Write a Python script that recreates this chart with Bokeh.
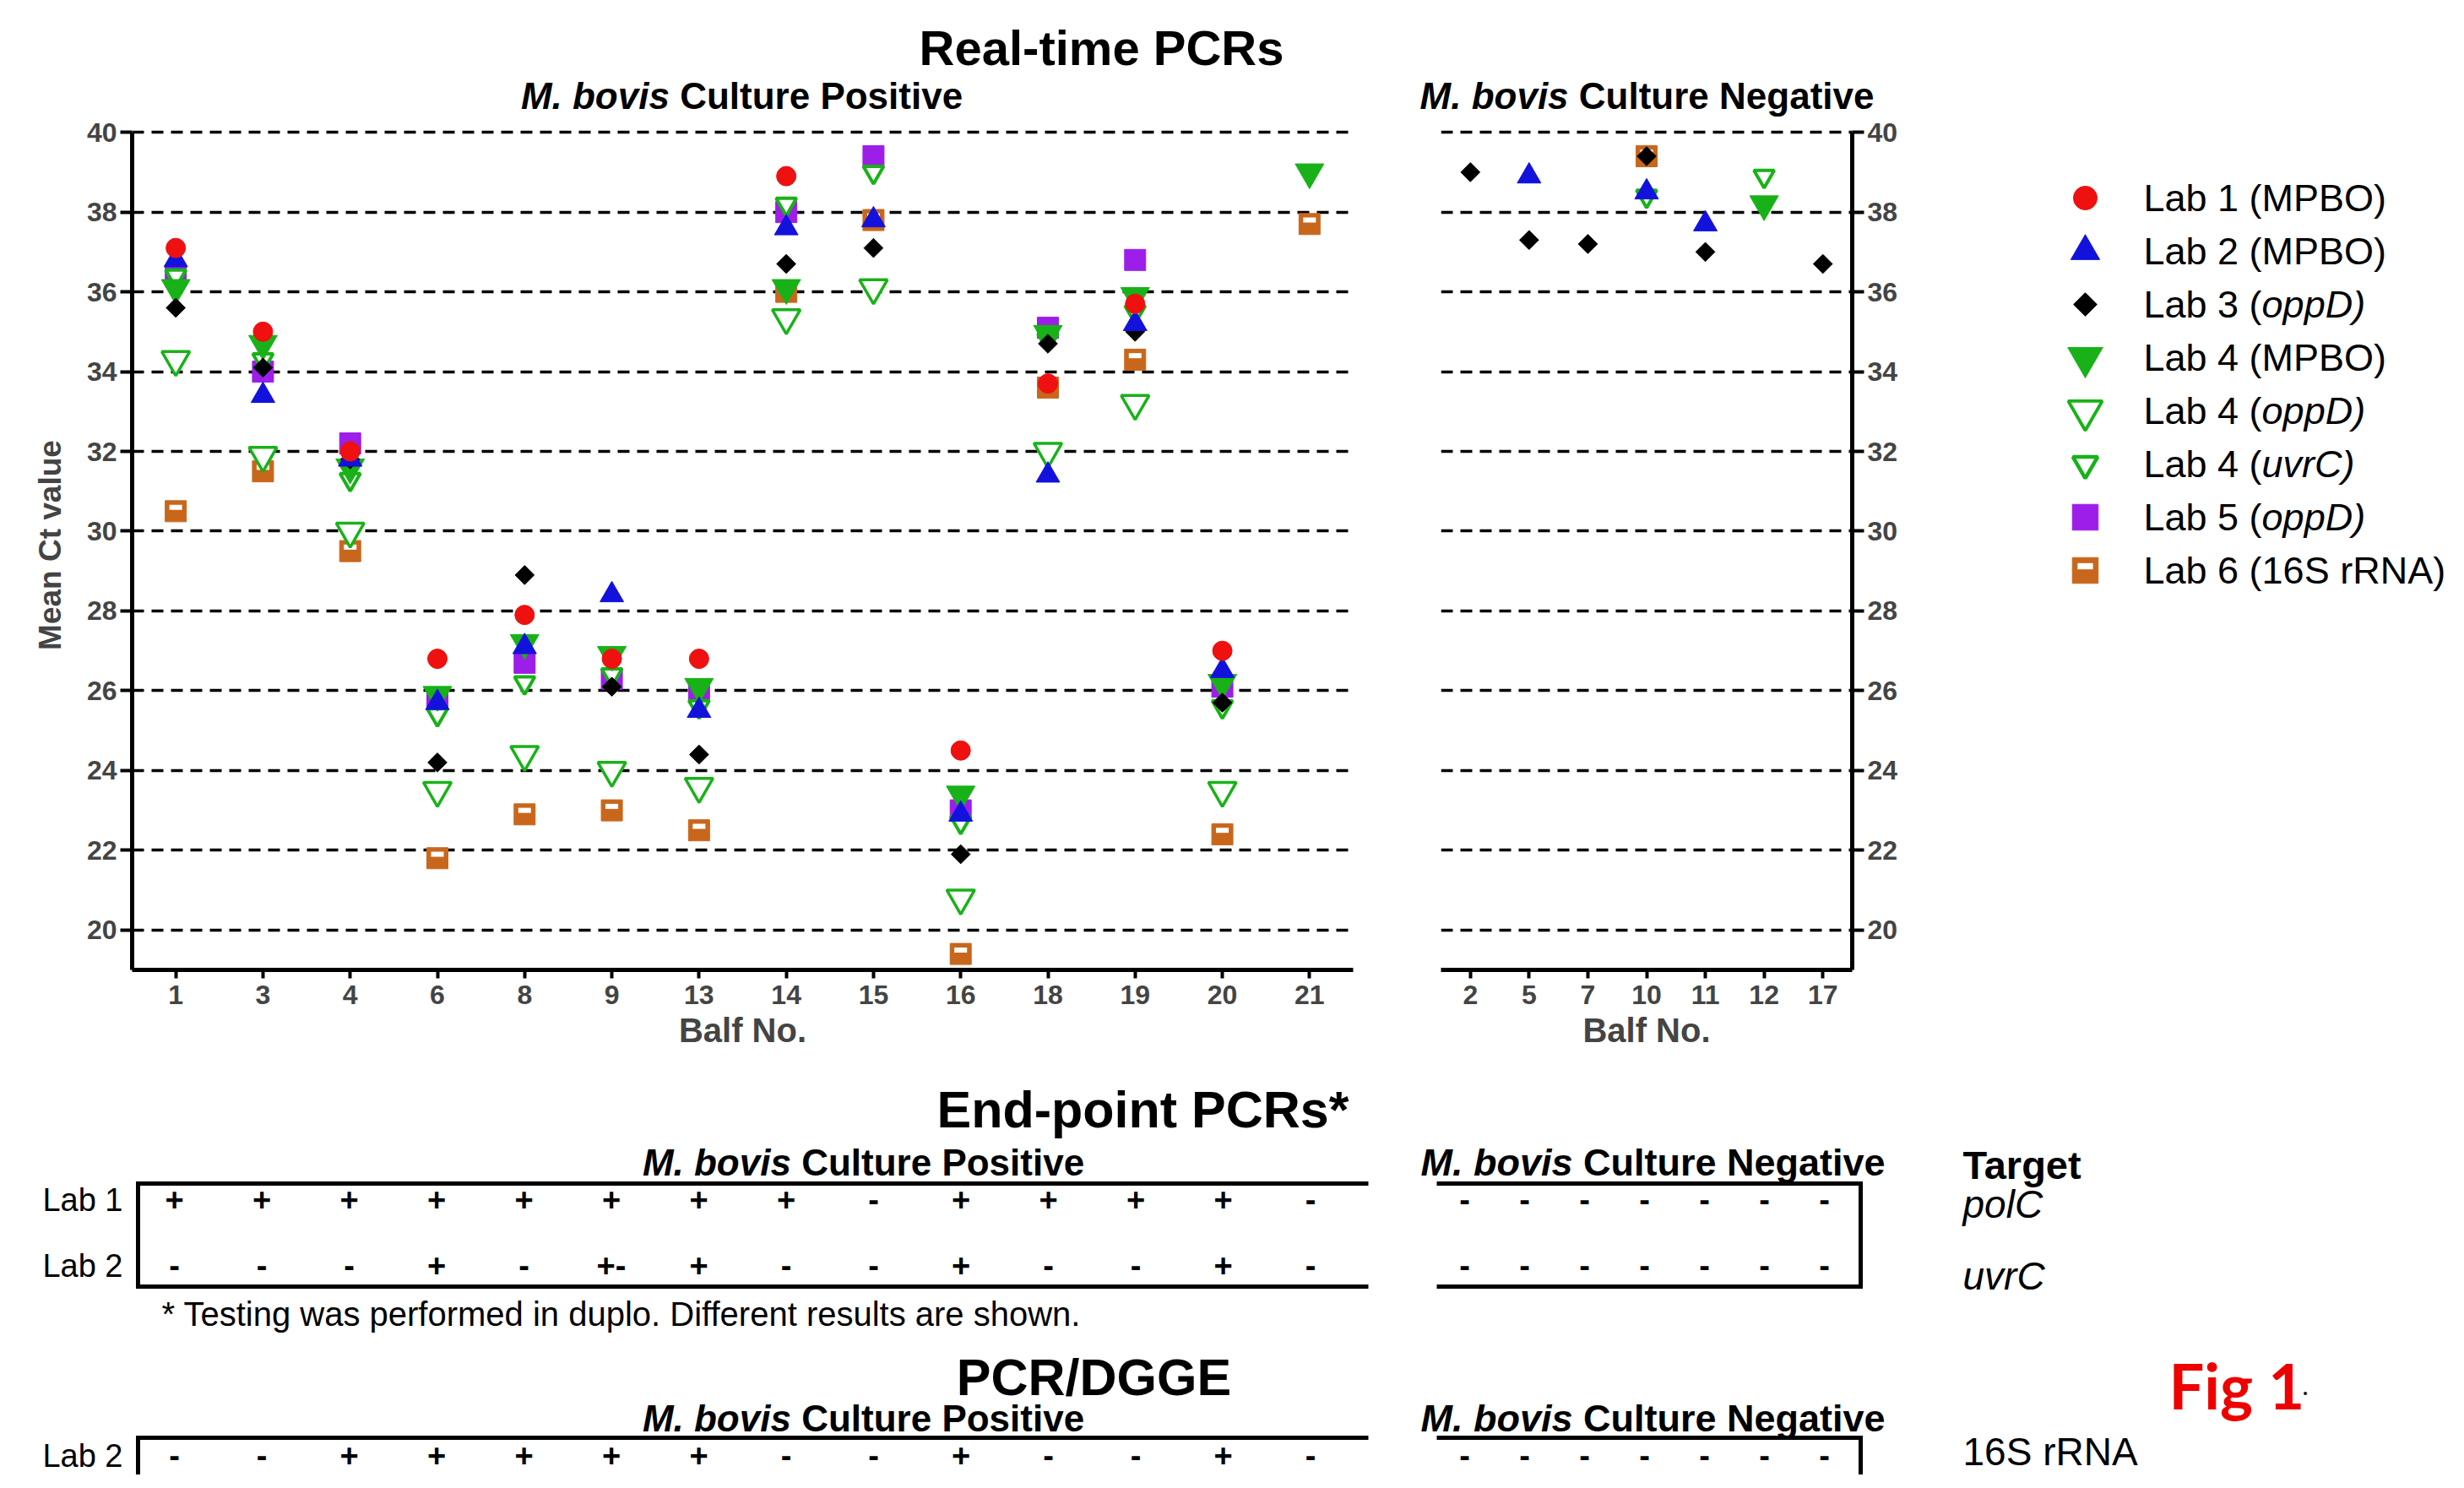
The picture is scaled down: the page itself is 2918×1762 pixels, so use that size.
import math
from bokeh.plotting import figure
from bokeh.models import Label, FixedTicker, Range1d, FactorRange, ColumnDataSource
from bokeh.layouts import row, column
from bokeh.embed import file_html
from bokeh.resources import INLINE
from bokeh.core.properties import value
from bokeh.transform import dodge

# ---------------- data ----------------
pos_balf = ["1", "3", "4", "6", "8", "9", "13", "14", "15", "16", "18", "19", "20", "21"]
neg_balf = ["2", "5", "7", "10", "11", "12", "17"]

# Mean Ct values, culture-positive BALFs
lab1_mpbo_pos = [37.1, 35.0, 32.0, 26.8, 27.9, 26.8, 26.8, 38.9, None, 24.5, 33.7, 35.7, 27.0, None]
lab2_mpbo_pos = [36.8, 33.4, 31.8, 25.7, 27.1, 28.4, 25.5, 37.6, 37.8, 22.9, 31.4, 35.2, 26.5, None]
lab3_oppd_pos = [35.6, 34.1, 31.8, 24.2, 28.9, 26.1, 24.4, 36.7, 37.1, 21.9, 34.7, 35.0, 25.7, None]
lab4_mpbo_pos = [36.1, 34.7, 31.6, 25.9, 27.2, 26.9, 26.1, 36.1, None, 23.4, 34.95, 35.9, 26.2, 39.0]
lab4_oppd_pos = [34.3, 31.9, 30.0, 23.5, 24.4, 24.0, 23.6, 35.35, 36.1, 20.8, 32.0, 33.2, 23.5, None]
lab4_uvrc_pos = [36.4, 34.3, 31.3, 25.4, 26.2, 26.4, 25.6, 38.2, 39.0, 22.7, 34.8, 35.5, 25.6, None]
lab5_oppd_pos = [36.4, 34.0, 32.2, 25.8, 26.7, 26.3, 26.0, 38.0, 39.4, 23.0, 35.1, 36.8, 26.1, None]
lab6_16s_pos = [30.5, 31.5, 29.5, 21.8, 22.9, 23.0, 22.5, 36.0, 37.8, 19.4, 33.6, 34.3, 22.4, 37.7]

# Mean Ct values, culture-negative BALFs
lab1_mpbo_neg = [None, None, None, None, None, None, None]
lab2_mpbo_neg = [None, 38.9, None, 38.5, 37.7, None, None]
lab3_oppd_neg = [39.0, 37.3, 37.2, 39.4, 37.0, None, 36.7]
lab4_mpbo_neg = [None, None, None, None, None, 38.2, None]
lab4_oppd_neg = [None, None, None, None, None, None, None]
lab4_uvrc_neg = [None, None, None, 38.4, None, 38.9, None]
lab5_oppd_neg = [None, None, None, None, None, None, None]
lab6_16s_neg = [None, None, None, 39.4, None, None, None]

y_ticks = [20, 22, 24, 26, 28, 30, 32, 34, 36, 38, 40]

# End-point PCR results
ep_lab1_pos = ["+", "+", "+", "+", "+", "+", "+", "+", "-", "+", "+", "+", "+", "-"]
ep_lab2_pos = ["-", "-", "-", "+", "-", "+-", "+", "-", "-", "+", "-", "-", "+", "-"]
ep_lab1_neg = ["-", "-", "-", "-", "-", "-", "-"]
ep_lab2_neg = ["-", "-", "-", "-", "-", "-", "-"]
# PCR/DGGE results
dgge_lab2_pos = ["-", "-", "+", "+", "+", "+", "+", "-", "-", "+", "-", "-", "+", "-"]
dgge_lab2_neg = ["-", "-", "-", "-", "-", "-", "-"]

legend_labels = [
    [("Lab 1 (MPBO)", False)],
    [("Lab 2 (MPBO)", False)],
    [("Lab 3 (", False), ("oppD)", True)],
    [("Lab 4 (MPBO)", False)],
    [("Lab 4 (", False), ("oppD)", True)],
    [("Lab 4 (", False), ("uvrC)", True)],
    [("Lab 5 (", False), ("oppD)", True)],
    [("Lab 6 (16S rRNA)", False)],
]
legend_keys = ["lab1", "lab2", "lab3", "lab4m", "lab4o", "lab4u", "lab5", "lab6"]

pos_series = {"lab1": lab1_mpbo_pos, "lab2": lab2_mpbo_pos, "lab3": lab3_oppd_pos, "lab4m": lab4_mpbo_pos,
              "lab4o": lab4_oppd_pos, "lab4u": lab4_uvrc_pos, "lab5": lab5_oppd_pos, "lab6": lab6_16s_pos}
neg_series = {"lab1": lab1_mpbo_neg, "lab2": lab2_mpbo_neg, "lab3": lab3_oppd_neg, "lab4m": lab4_mpbo_neg,
              "lab4o": lab4_oppd_neg, "lab4u": lab4_uvrc_neg, "lab5": lab5_oppd_neg, "lab6": lab6_16s_neg}
draw_order = ["lab6", "lab5", "lab4o", "lab4u", "lab4m", "lab3", "lab2", "lab1"]

# ---------------- styles ----------------
FONT = "Liberation Sans"
RED = "#ef1010"
BLUE = "#1212dc"
BLACK = "#000000"
GREEN = "#18b218"
PURPLE = "#9c1ee8"
ORANGE = "#c8671c"

MARKERS = {
    "lab1": dict(marker="circle", size=23, fill_color=RED, line_color=RED),
    "lab2": dict(marker="triangle", size=28, fill_color=BLUE, line_color=BLUE),
    "lab3": dict(marker="square", size=16, angle=math.pi / 4, fill_color=BLACK, line_color=BLACK),
    "lab4m": dict(marker="inverted_triangle", size=34, fill_color=GREEN, line_color=GREEN),
    "lab4o": dict(marker="inverted_triangle", size=33, fill_color="white", line_color=GREEN, line_width=3.5),
    "lab4u": dict(marker="inverted_triangle", size=24, fill_color="white", line_color=GREEN, line_width=4),
    "lab5": dict(marker="square", size=25, fill_color=PURPLE, line_color=PURPLE),
    "lab6": dict(marker="square", size=25, fill_color=ORANGE, line_color=ORANGE),
}
LEG_SCALE = 1.22

W_REG = {' ': 278, '(': 333, ')': 333, '*': 389, '.': 278, '+': 584, '-': 333, '/': 278,
         'A': 667, 'B': 667, 'C': 722, 'D': 722, 'E': 667, 'F': 611, 'G': 778, 'H': 722, 'I': 278,
         'L': 556, 'M': 833, 'N': 722, 'O': 778, 'P': 667, 'R': 722, 'S': 667, 'T': 611,
         'a': 556, 'b': 556, 'c': 500, 'd': 556, 'e': 556, 'f': 278, 'g': 556, 'h': 556, 'i': 222,
         'l': 222, 'm': 833, 'n': 556, 'o': 556, 'p': 556, 'r': 333, 's': 500, 't': 278, 'u': 556,
         'v': 500, 'w': 722, 'y': 500}
W_BOLD = {' ': 278, '(': 333, ')': 333, '*': 389, '.': 278, '+': 584, '-': 333, '/': 278,
          'A': 722, 'B': 722, 'C': 722, 'D': 722, 'E': 667, 'G': 778, 'M': 833, 'N': 722, 'O': 778,
          'P': 667, 'R': 722, 'S': 667, 'T': 611,
          'a': 556, 'b': 611, 'c': 556, 'd': 611, 'e': 556, 'f': 333, 'g': 611, 'i': 278, 'l': 278,
          'm': 889, 'n': 611, 'o': 611, 'p': 611, 'r': 389, 's': 556, 't': 333, 'u': 611, 'v': 556}


def tw(s, size, bold=False):
    tab = W_BOLD if bold else W_REG
    return sum(tab.get(ch, 556) for ch in s) * size / 1000.0


def add_text(fig, parts, x, y, size, bold=False, align="left", color="black", baseline="middle", font=FONT):
    """Place (possibly mixed italic) text; x,y in the figure's data units (page pixels)."""
    widths = [tw(t, size, bold) for t, _ in parts]
    total = sum(widths)
    x0 = x - total / 2.0 if align == "center" else x
    for (t, it), w in zip(parts, widths):
        lead = len(t) - len(t.lstrip(" "))
        style = ("bold " if bold else "") + ("italic" if it else "")
        style = style.strip() or "normal"
        fig.add_layout(Label(x=x0 + tw(" " * lead, size, bold), y=y, text=t.strip(" "),
                             text_font=font, text_font_size=f"{size}px", text_font_style=style,
                             text_color=color, text_align="left", text_baseline=baseline))
        x0 += w


def style_axis(ax, tick_out):
    ax.axis_line_width = 5
    ax.axis_line_color = "black"
    ax.major_tick_line_width = 4
    ax.major_tick_out = tick_out
    ax.major_tick_in = 0
    ax.minor_tick_line_color = None
    ax.major_label_text_font = FONT
    ax.major_label_text_font_style = "bold"
    ax.major_label_text_font_size = "32px"
    ax.axis_label_text_font = FONT
    ax.axis_label_text_font_style = "bold"
    ax.axis_label_text_font_size = "40px"


def nan(v):
    return float("nan") if v is None else v


def draw_points(p, xs, ys, key, scale=1.0, inner_offset=0.1):
    st = dict(MARKERS[key])
    st["size"] = st["size"] * scale
    if "line_width" in st:
        st["line_width"] = st["line_width"] * (1.0 + (scale - 1.0) * 0.6)
    src = ColumnDataSource(dict(x=xs, y=ys))
    p.scatter(x="x", y="y", source=src, **st)
    if key == "lab6":
        p.rect(x="x", y=dodge("y", inner_offset), width=15 * scale, height=6 * scale,
               width_units="screen", height_units="screen", source=src,
               fill_color="white", line_color=None)


def blank_fig(width, height, x0, x1, y_top, y_bottom):
    f = figure(width=width, height=height, x_range=Range1d(x0, x1), y_range=Range1d(y_bottom, y_top),
               x_axis_location=None, y_axis_location=None, toolbar_location=None,
               output_backend="svg", min_border=0)
    f.outline_line_color = None
    f.grid.visible = False
    return f


# ---------------- page geometry (pixels) ----------------
LEFT_W = 2282          # page x 8 .. 2290
RIGHT_W = 620          # page x 2290 .. 2910
HEAD_H = 138           # page y 8 .. 146
PLOT_H = 1134          # page y 146 .. 1280
BOTTOM_H = 474         # page y 1280 .. 1754

# ---------------- header ----------------
head = blank_fig(LEFT_W, HEAD_H, 8, 2290, 8, 146)
add_text(head, [("Real-time PCRs", False)], 1312, 64, 58, bold=True, align="center")
add_text(head, [("M. bovis", True), (" Culture Positive", False)], 886, 121, 44, bold=True, align="center")
add_text(head, [("M. bovis", True), (" Culture Negative", False)], 1958, 121, 44, bold=True, align="center")


# ---------------- real-time PCR scatter panels ----------------
def make_scatter(cats, series, width, bl, br, yloc):
    p = figure(width=width, height=PLOT_H, x_range=FactorRange(factors=cats),
               y_range=Range1d(19, 40.3), y_axis_location=yloc,
               toolbar_location=None, output_backend="svg",
               min_border_left=bl, min_border_right=br, min_border_top=4, min_border_bottom=124)
    p.outline_line_color = None
    p.xgrid.visible = False
    p.yaxis.ticker = FixedTicker(ticks=y_ticks)
    p.ygrid.ticker = FixedTicker(ticks=y_ticks)
    p.ygrid.grid_line_color = "black"
    p.ygrid.grid_line_width = 3.5
    p.ygrid.grid_line_dash = "14 9"
    p.yaxis.bounds = (19, 40)
    style_axis(p.yaxis[0], 14)
    style_axis(p.xaxis[0], 10)
    p.xaxis.major_label_standoff = 8
    p.xaxis.axis_label = "Balf No."
    p.xaxis.axis_label_standoff = 6
    p.yaxis.major_label_standoff = 4
    for key in draw_order:
        draw_points(p, cats, [nan(v) for v in series[key]], key)
    return p


pA = make_scatter(pos_balf, pos_series, 1654, 156, 52, "left")
pA.yaxis.axis_label = "Mean Ct value"
pA.yaxis.axis_label_text_font_size = "37px"
pA.yaxis.axis_label_standoff = 20
pB = make_scatter(neg_balf, neg_series, 628, 52, 89, "right")

# ---------------- end-point PCR and PCR/DGGE tables ----------------
btm = blank_fig(LEFT_W, BOTTOM_H, 8, 2290, 1280, 1754)
# column scales: culture-positive columns start at x=214 (step 103.5), negative at x=1742 (step 71)
btm.extra_x_ranges = {"pos": Range1d((8 - 214) / 103.5, (2290 - 214) / 103.5),
                      "neg": Range1d((8 - 1742) / 71.0, (2290 - 1742) / 71.0)}

EP_ROW1, EP_ROW2, DG_ROW = 1428, 1506, 1731
BOX_L, BOX_LR, BOX_RL, BOX_R = 171, 1628, 1709, 2211
EP_TOP, EP_BOT, DG_TOP = 1409, 1531, 1710

btm.multi_line(xs=[[BOX_LR, BOX_L, BOX_L, BOX_LR], [BOX_RL, BOX_R, BOX_R, BOX_RL],
                   [BOX_LR, BOX_L, BOX_L], [BOX_RL, BOX_R, BOX_R]],
               ys=[[EP_TOP, EP_TOP, EP_BOT, EP_BOT], [EP_TOP, EP_TOP, EP_BOT, EP_BOT],
                   [DG_TOP, DG_TOP, 1770], [DG_TOP, DG_TOP, 1770]],
               line_color="black", line_width=5, line_join="miter")


def table_row(vals, rng, yrow):
    src = ColumnDataSource(dict(x=list(range(len(vals))), y=[yrow] * len(vals), t=vals))
    btm.text(x="x", y="y", text="t", source=src, x_range_name=rng, text_font=value(FONT),
             text_font_style="bold", text_font_size=value("38px"), text_align="center",
             text_baseline="middle")


table_row(ep_lab1_pos, "pos", EP_ROW1)
table_row(ep_lab2_pos, "pos", EP_ROW2)
table_row(ep_lab1_neg, "neg", EP_ROW1)
table_row(ep_lab2_neg, "neg", EP_ROW2)
table_row(dgge_lab2_pos, "pos", DG_ROW)
table_row(dgge_lab2_neg, "neg", DG_ROW)

row_src = ColumnDataSource(dict(x=[153, 153, 153], y=[EP_ROW1, EP_ROW2, DG_ROW], t=["Lab 1", "Lab 2", "Lab 2"]))
btm.text(x="x", y="y", text="t", source=row_src, text_font=value(FONT), text_font_size=value("38px"),
         text_align="right", text_baseline="middle")

add_text(btm, [("End-point PCRs*", False)], 1361, 1321, 61, bold=True, align="center")
add_text(btm, [("M. bovis", True), (" Culture Positive", False)], 1030, 1384, 44, bold=True, align="center")
add_text(btm, [("M. bovis", True), (" Culture Negative", False)], 1965, 1384, 45, bold=True, align="center")
add_text(btm, [("* Testing was performed in duplo. Different results are shown.", False)], 199, 1563, 40)
add_text(btm, [("PCR/DGGE", False)], 1303, 1638, 61, bold=True, align="center")
add_text(btm, [("M. bovis", True), (" Culture Positive", False)], 1030, 1687, 44, bold=True, align="center")
add_text(btm, [("M. bovis", True), (" Culture Negative", False)], 1965, 1687, 45, bold=True, align="center")

# ---------------- legend / right-hand texts ----------------
r = blank_fig(RIGHT_W, HEAD_H + PLOT_H + BOTTOM_H, 2290, 2910, 8, 1754)
LEG_X = 2477
LEG_TX = 2546
LEG_Y0 = 242
LEG_DY = 63
for i, key in enumerate(legend_keys):
    ly = LEG_Y0 + i * LEG_DY
    draw_points(r, [LEG_X], [ly], key, scale=LEG_SCALE, inner_offset=-5)
    add_text(r, legend_labels[i], LEG_TX, ly, 45)

add_text(r, [("Target", False)], 2332, 1387, 47, bold=True)
add_text(r, [("polC", True)], 2332, 1433, 46)
add_text(r, [("uvrC", True)], 2332, 1518, 46)
add_text(r, [("16S rRNA", False)], 2332, 1726, 46)
r.add_layout(Label(x=2576, y=1648, text="Fig 1", text_font="Lato", text_font_style="bold",
                   text_font_size="74px", text_color="#ee0000", text_baseline="alphabetic"))
r.add_layout(Label(x=2734, y=1648, text=".", text_font="Lato", text_font_size="30px",
                   text_color="black", text_baseline="alphabetic"))

layout = row(column(head, row(pA, pB), btm), r)
open("out.html", "w").write(file_html(layout, INLINE))
